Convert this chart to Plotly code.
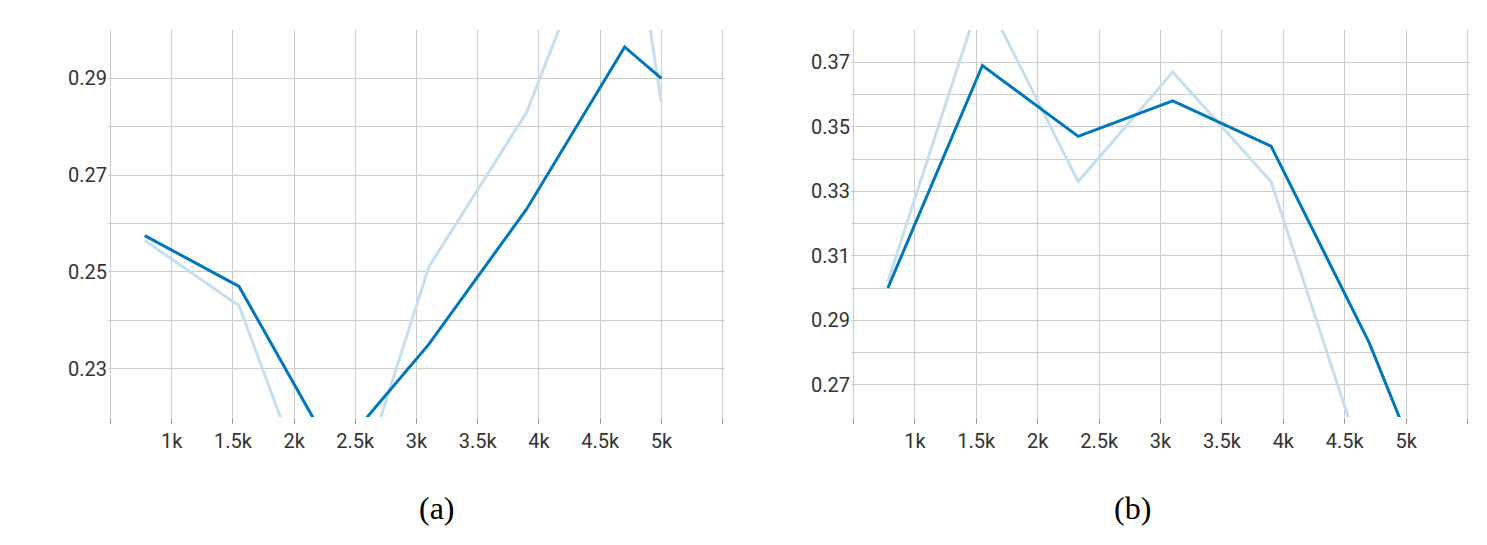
import plotly.graph_objects as go

steps = [780, 1550, 2330, 3100, 3900, 4700, 5000]
a_smooth = [0.2575, 0.247, 0.212, 0.235, 0.263, 0.2965, 0.290]
a_raw = [0.2565, 0.243, 0.190, 0.251, 0.283, 0.335, 0.285]
b_steps = [780, 1550, 2330, 3100, 3900, 4700, 5050]
b_smooth = [0.300, 0.369, 0.347, 0.358, 0.344, 0.283, 0.250]
b_raw = [0.302, 0.392, 0.333, 0.367, 0.333, 0.240, 0.230]
xtick_vals = [500, 1000, 1500, 2000, 2500, 3000, 3500, 4000, 4500, 5000, 5500]
xtick_text = ["", "1k", "1.5k", "2k", "2.5k", "3k", "3.5k", "4k", "4.5k", "5k", ""]

dark = "#0077bb"
light = "#c6dff0"
fig = go.Figure()
for xs, raw, sm, ax in [(steps, a_raw, a_smooth, ""), (b_steps, b_raw, b_smooth, "2")]:
    fig.add_trace(go.Scatter(x=xs, y=raw, mode="lines", line=dict(color=light, width=3),
                             xaxis="x" + ax, yaxis="y" + ax, showlegend=False))
    fig.add_trace(go.Scatter(x=xs, y=sm, mode="lines", line=dict(color=dark, width=3),
                             xaxis="x" + ax, yaxis="y" + ax, showlegend=False))

tf = dict(family="Roboto", size=20, color="#333")
xcommon = dict(tickvals=xtick_vals, ticktext=xtick_text, gridcolor="#cccccc", gridwidth=1.2,
               showline=False, zeroline=False, ticks="outside", ticklen=6, tickcolor="#999",
               tickfont=tf, range=[480, 5520])
ydom = [1 - 409 / 545, 1 - 22 / 545]
fig.update_layout(
    width=1487, height=545, margin=dict(l=0, r=0, t=0, b=0),
    plot_bgcolor="white", paper_bgcolor="white",
    xaxis=dict(domain=[100 / 1487, 717 / 1487], anchor="y", **xcommon),
    xaxis2=dict(domain=[843 / 1487, 1462 / 1487], anchor="y2", **xcommon),
    yaxis=dict(domain=ydom, range=[0.22, 0.30], tickvals=[0.22, 0.23, 0.24, 0.25, 0.26, 0.27, 0.28, 0.29, 0.30],
               ticktext=["", "0.23", "", "0.25", "", "0.27", "", "0.29", ""],
               gridcolor="#cccccc", zeroline=False, ticks="", tickfont=tf),
    yaxis2=dict(domain=ydom, anchor="x2", range=[0.26, 0.38],
                tickvals=[0.26, 0.27, 0.28, 0.29, 0.30, 0.31, 0.32, 0.33, 0.34, 0.35, 0.36, 0.37, 0.38],
                ticktext=["", "0.27", "", "0.29", "", "0.31", "", "0.33", "", "0.35", "", "0.37", ""],
                gridcolor="#cccccc", zeroline=False, ticks="", tickfont=tf),
    annotations=[
        dict(text="(a)", x=(100 + 717) / 2 / 1487, y=1 - 520 / 545, xref="paper", yref="paper",
             showarrow=False, font=dict(family="Liberation Serif", size=32, color="black")),
        dict(text="(b)", x=(843 + 1462) / 2 / 1487 - 0.005, y=1 - 520 / 545, xref="paper", yref="paper",
             showarrow=False, font=dict(family="Liberation Serif", size=32, color="black")),
    ],
)
fig.write_html("out.html")
